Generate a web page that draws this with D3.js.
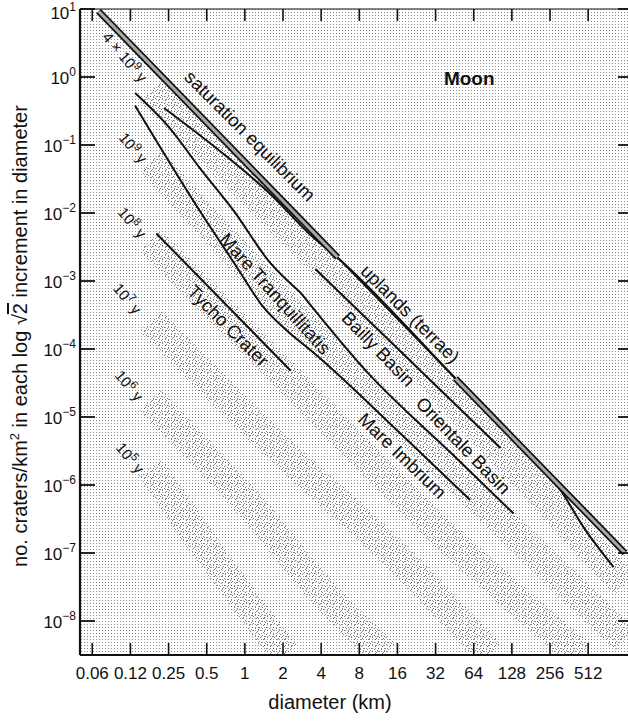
<!doctype html>
<html>
<head>
<script src="https://d3js.org/d3.v7.min.js"></script>
<style>
  body { margin: 0; background: #fff; }
  svg text { font-family: "Liberation Sans", Arial, sans-serif; fill: #111; }
</style>
</head>
<body>
<script>
// axis ticks
let xTicks = [0.0625, 0.125, 0.25, 0.5, 1, 2, 4, 8, 16, 32, 64, 128, 256, 512];
let xTickLabels = ["0.06", "0.12", "0.25", "0.5", "1", "2", "4", "8", "16", "32", "64", "128", "256", "512"];
let yTickExps = [1, 0, -1, -2, -3, -4, -5, -6, -7, -8];

// curves: [diameter km, craters per km2]
let saturation = [[0.07, 9.3], [1000, 1.0e-7]];
let saturationDrawn = [[0.07, 5.4], [46, 1000]];
let uplands = [[0.23, 0.35], [0.66, 0.077], [1.58, 0.0192], [3.28, 4.8e-3], [5.4, 2.2e-3], [46, 3.7e-5], [190, 2.5e-6], [310, 8.4e-7], [470, 2.4e-7], [813, 6.2e-8]];
let bailly = [[3.6, 1.5e-3], [104, 3.5e-6]];
let orientale = [[2.74, 6.8e-4], [9.3, 4.5e-5], [42, 3.0e-6], [132, 3.8e-7]];
let mareTranq = [[0.136, 0.58], [0.26, 0.17], [0.44, 0.046], [0.81, 0.011], [1.58, 1.86e-3], [2.74, 6.8e-4]];
let mareImbrium = [[0.136, 0.38], [0.44, 0.0108], [0.87, 1.57e-3], [1.37, 4.35e-4], [2.28, 1.69e-4], [3.47, 8.9e-5], [16.9, 5.7e-6], [60, 6.0e-7]];
let tycho = [[0.20, 5.0e-3], [2.3, 4.8e-5]];

// isochron bands
let iso4e9 = [[0.18, 0.62], [4.7, 1.4e-3], [1000, 3.4e-8]];
let iso1e9 = [[0.18, 0.059], [2.7, 2.6e-4], [72, 6.0e-7], [1000, 5.2e-9]];
let iso1e8 = [[0.18, 3.9e-3], [1.9, 4.8e-5], [42, 1.5e-7], [446, 3.2e-9]];
let iso1e7 = [[0.18, 2.6e-4], [1.3, 6.4e-6], [16.9, 7.8e-8], [87, 3.2e-9]];
let iso1e6 = [[0.18, 1.75e-5], [1.1, 5.0e-7], [4.7, 2.0e-8], [12.8, 3.2e-9]];
let iso1e5 = [[0.18, 1.8e-6], [0.58, 7.8e-8], [2.1, 3.2e-9]];

// labels: text, diameter, density, angle
let curveLabels = [
  ["saturation equilibrium", 1.10, 0.136, 45],
  ["uplands (terrae)", 20.2, 3.3e-4, 45],
  ["Bailly Basin", 11.3, 1.0e-4, 46],
  ["Orientale Basin", 53, 3.8e-6, 46],
  ["Mare Imbrium", 17.5, 2.7e-6, 44],
  ["Mare Tranquillitatis", 1.74, 6.5e-4, 48],
  ["Tycho Crater", 0.74, 2.2e-4, 45]
];
let isoLabels = [
  ["4 \u00d7 10", "9", 0.113, 1.97],
  ["10", "9", 0.131, 0.091],
  ["10", "8", 0.129, 7.2e-3],
  ["10", "7", 0.118, 5.5e-4],
  ["10", "6", 0.122, 2.9e-5],
  ["10", "5", 0.124, 2.5e-6]
];

let W = 628, H = 721;
let pL = 80, pR = 630, pT = 9, pB = 655;

let x = d3.scaleLog().domain([0.05, 1000]).range([80, 625]);
let y = d3.scaleLog().domain([Math.pow(10, -8.5), 10]).range([pB, pT]);

let svg = d3.select("body").append("svg")
            .attr("width", W)
            .attr("height", H);

let defs = svg.append("defs");
let bg = defs.append("pattern").attr("id", "bgdots")
             .attr("patternUnits", "userSpaceOnUse")
             .attr("width", 3).attr("height", 3);
bg.append("rect").attr("width", 1).attr("height", 1).attr("fill", "#8a8a8a");

let bd = defs.append("pattern").attr("id", "banddots")
             .attr("patternUnits", "userSpaceOnUse")
             .attr("width", 7).attr("height", 7);
[[1, 0], [4, 2], [0, 4], [3, 5], [6, 6], [5, 1]].forEach(p =>
  bd.append("rect").attr("x", p[0]).attr("y", p[1]).attr("width", 1).attr("height", 1).attr("fill", "#1a1a1a"));

let clip = defs.append("clipPath").attr("id", "plotclip");
clip.append("rect").attr("x", pL).attr("y", pT).attr("width", pR - pL).attr("height", pB - pT);

svg.append("rect").attr("width", W).attr("height", H).attr("fill", "#fff");
svg.append("rect")
   .attr("x", pL).attr("y", pT)
   .attr("width", pR - pL).attr("height", pB - pT)
   .attr("fill", "url(#bgdots)");

let line = d3.line()
             .x(d => x(d[0]))
             .y(d => y(d[1]))
             .curve(d3.curveMonotoneX);

let plot = svg.append("g").attr("clip-path", "url(#plotclip)");

// isochron bands (stippled)
[iso4e9, iso1e9, iso1e8, iso1e7, iso1e6, iso1e5].forEach(b => {
  plot.append("path")
      .attr("d", line(b))
      .attr("fill", "none")
      .attr("stroke", "url(#banddots)")
      .attr("stroke-width", 30)
      .attr("opacity", 0.55);
});

// crater curves
[bailly, orientale, mareTranq, mareImbrium, tycho, uplands].forEach(c => {
  plot.append("path")
      .attr("d", line(c))
      .attr("fill", "none")
      .attr("stroke", "#111")
      .attr("stroke-width", 2);
});

// thin part of the saturation line
let satLine = d3.line().x(d => x(d[0])).y(d => y(d[1]));
let satAt = d => Math.exp(Math.log(saturation[0][1]) +
  (Math.log(d) - Math.log(saturation[0][0])) *
  (Math.log(saturation[1][1]) - Math.log(saturation[0][1])) /
  (Math.log(saturation[1][0]) - Math.log(saturation[0][0])));
plot.append("path")
    .attr("d", satLine([[5.4, satAt(5.4)], [46, satAt(46)]]))
    .attr("fill", "none")
    .attr("stroke", "#111")
    .attr("stroke-width", 1.8);

// saturation equilibrium double band
saturationDrawn.forEach(s => {
  let seg = [[s[0], satAt(s[0])], [s[1], satAt(s[1])]];
  plot.append("path").attr("d", satLine(seg))
      .attr("stroke", "#111").attr("stroke-width", 6.5).attr("fill", "none");
  plot.append("path").attr("d", satLine(seg))
      .attr("stroke", "#a8a8a8").attr("stroke-width", 3).attr("fill", "none");
});

// curve labels
curveLabels.forEach(l => {
  svg.append("text")
     .attr("transform", "translate(" + x(l[1]) + "," + y(l[2]) + ") rotate(" + l[3] + ")")
     .attr("text-anchor", "middle")
     .attr("dy", "0.35em")
     .style("font-size", "18.5px")
     .text(l[0]);
});

isoLabels.forEach(l => {
  let t = svg.append("text")
             .attr("transform", "translate(" + x(l[2]) + "," + y(l[3]) + ") rotate(50)")
             .attr("text-anchor", "middle")
             .attr("dy", "0.35em")
             .style("font-size", "15px");
  t.append("tspan").text(l[0]);
  t.append("tspan").attr("dy", "-6").style("font-size", "11px").text(l[1]);
  t.append("tspan").attr("dy", "6").text(" y");
});

svg.append("text")
   .attr("x", x(59)).attr("y", y(0.97))
   .attr("text-anchor", "middle")
   .attr("dy", "0.35em")
   .style("font-size", "19px")
   .style("font-weight", "bold")
   .text("Moon");

// frame
svg.append("line").attr("x1", pL).attr("x2", pR).attr("y1", pT).attr("y2", pT)
   .attr("stroke", "#111").attr("stroke-width", 1.2);
svg.append("line").attr("x1", pL).attr("x2", pR).attr("y1", pB).attr("y2", pB)
   .attr("stroke", "#111").attr("stroke-width", 2.2);
svg.append("line").attr("x1", pL).attr("x2", pL).attr("y1", pT).attr("y2", pB)
   .attr("stroke", "#111").attr("stroke-width", 2.2);

// ticks
xTicks.forEach((t, i) => {
  svg.append("line").attr("x1", x(t)).attr("x2", x(t)).attr("y1", pB).attr("y2", pB - 12)
     .attr("stroke", "#111").attr("stroke-width", 1.6);
  svg.append("line").attr("x1", x(t)).attr("x2", x(t)).attr("y1", pT).attr("y2", pT + 12)
     .attr("stroke", "#111").attr("stroke-width", 1.6);
  svg.append("text")
     .attr("x", x(t)).attr("y", 679)
     .attr("text-anchor", "middle")
     .style("font-size", "17px")
     .text(xTickLabels[i]);
});

yTickExps.forEach(e => {
  let v = Math.pow(10, e);
  svg.append("line").attr("x1", pL).attr("x2", pL + 15).attr("y1", y(v)).attr("y2", y(v))
     .attr("stroke", "#111").attr("stroke-width", 1.8);
  svg.append("line").attr("x1", pR).attr("x2", pR - 12).attr("y1", y(v)).attr("y2", y(v))
     .attr("stroke", "#111").attr("stroke-width", 1.8);
  let t = svg.append("text")
             .attr("x", 76).attr("y", y(v) + (e === 1 ? 10 : 7))
             .attr("text-anchor", "end")
             .style("font-size", "17px");
  t.append("tspan").text("10");
  t.append("tspan").attr("dy", "-8").style("font-size", "12px")
   .text(e < 0 ? "\u2212" + (-e) : String(e));
});

// axis titles
svg.append("text")
   .attr("x", 330).attr("y", 709)
   .attr("text-anchor", "middle")
   .style("font-size", "20px")
   .text("diameter (km)");

let yt = svg.append("text")
            .attr("transform", "translate(27,336) rotate(-90)")
            .attr("text-anchor", "middle")
            .style("font-size", "20px");
yt.append("tspan").text("no. craters/km");
yt.append("tspan").attr("dy", "-8").style("font-size", "13px").text("2");
yt.append("tspan").attr("dy", "8").text(" in each log \u221a");
yt.append("tspan").style("text-decoration", "overline").text("2");
yt.append("tspan").text(" increment in diameter");
</script>
</body>
</html>
